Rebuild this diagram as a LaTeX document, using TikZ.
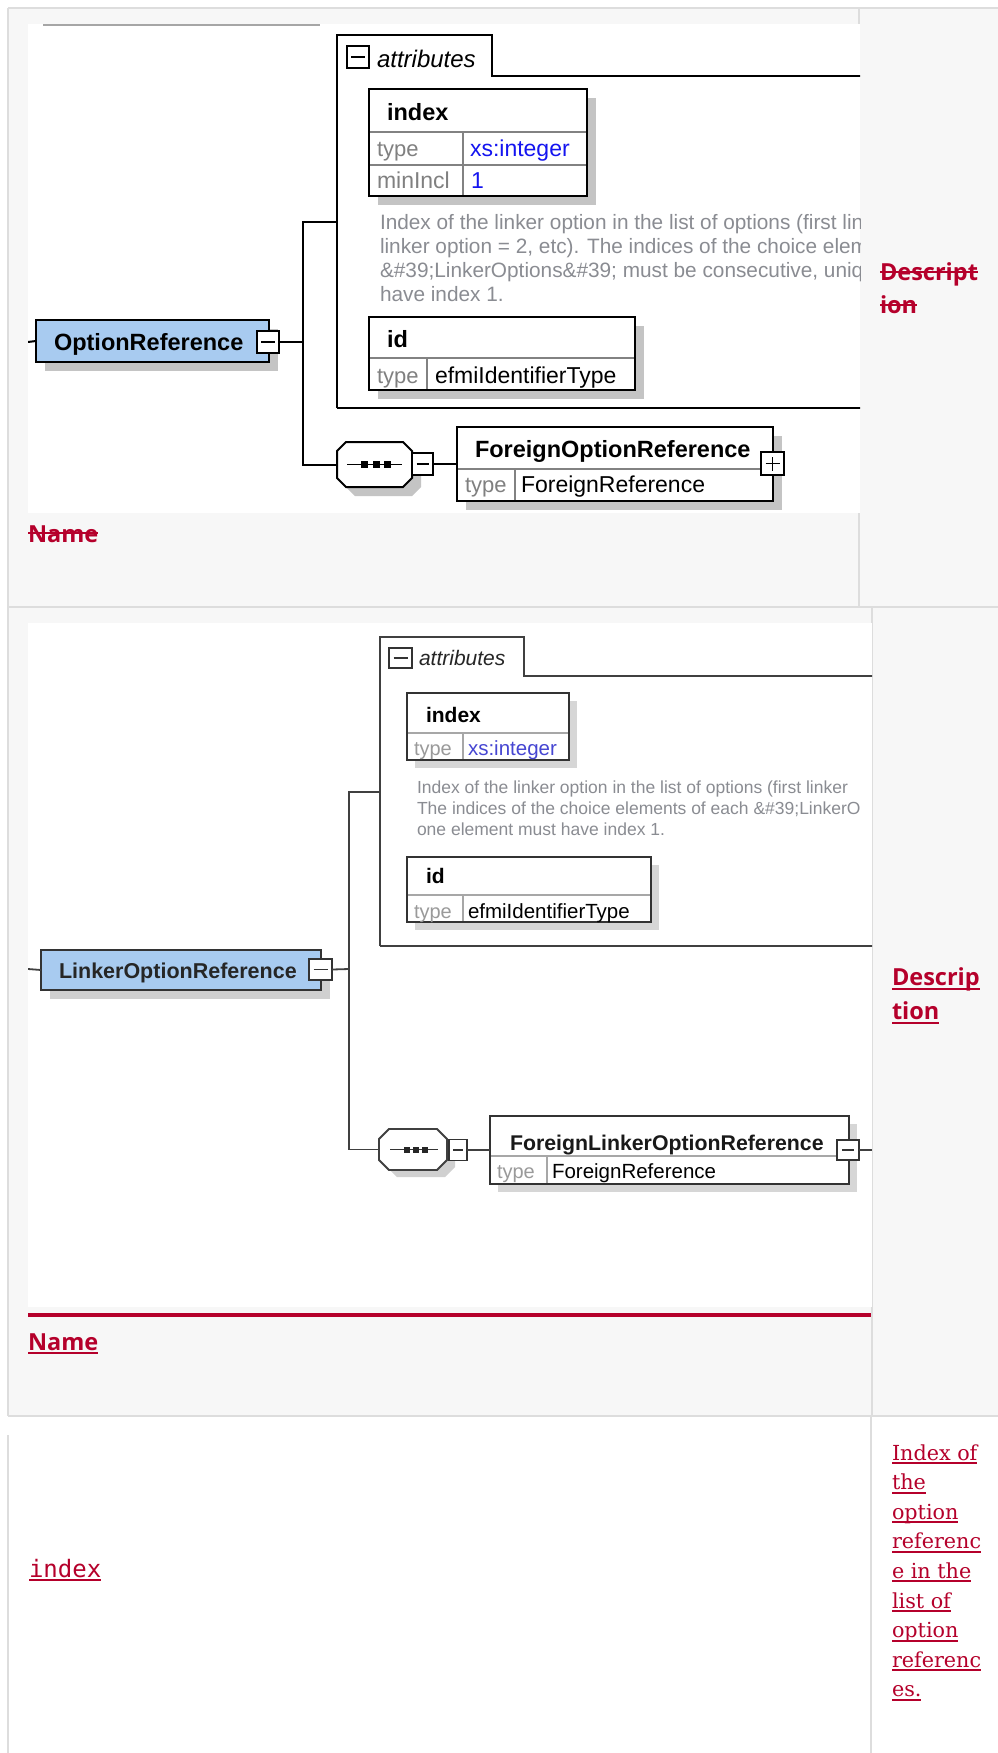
\documentclass[tikz,border=0pt]{standalone}
\usepackage{fontspec}
\setmainfont{Liberation Sans}
\newfontfamily\hfont{Open Sans}
\newfontfamily\serfont{DejaVu Serif}
\newfontfamily\monfont{DejaVu Sans Mono}
\usetikzlibrary{calc}
\definecolor{cellbg}{RGB}{247,247,247}
\definecolor{cellline}{RGB}{221,221,221}
\definecolor{crim}{RGB}{181,0,43}
\definecolor{boxblue}{RGB}{168,203,240}
\definecolor{shgray}{RGB}{196,196,196}
\definecolor{descgray}{RGB}{138,140,146}
\definecolor{typegray}{RGB}{128,128,128}
\definecolor{xsblue}{RGB}{20,20,240}
\definecolor{xsblueb}{RGB}{70,70,210}
\definecolor{innerline}{RGB}{130,130,130}
\newcommand\fsz[1]{\fontsize{#1}{#1}\selectfont}
\tikzset{
  every node/.style={inner sep=0pt, outer sep=0pt},
  bx/.style={draw=black, line width=2pt, fill=white, anchor=north west},
  bxb/.style={draw=black!80, line width=1.8pt, fill=white, anchor=north west},
  pmbox/.style={draw=black, line width=1.5pt, fill=white, anchor=north west},
  cline/.style={draw=black, line width=2pt},
  clineb/.style={draw=black!75, line width=1.8pt},
  inl/.style={draw=innerline, line width=1.3pt},
  ttl/.style={anchor=base west, font=\bfseries\fsz{23.5}},
  ttlb/.style={anchor=base west, font=\bfseries\fsz{21.5}},
  tgr/.style={anchor=base west, text=typegray, font=\fsz{22}},
  tgrb/.style={anchor=base west, text=typegray!80, font=\fsz{20}},
  tval/.style={anchor=base west, font=\fsz{23}},
  tvalb/.style={anchor=base west, font=\fsz{20.5}},
  dsc/.style={anchor=base west, text=descgray, font=\fsz{20.8}},
  dscb/.style={anchor=base west, text=descgray, font=\fsz{17.5}},
  hdr/.style={anchor=base west, text=crim, font=\hfont\bfseries\fsz{23.5}},
  rlink/.style={anchor=base west, text=crim, font=\serfont\fsz{20.7}},
  redln/.style={draw=crim, line width=2pt},
}
\begin{document}
\begin{tikzpicture}[x=1pt,y=-1pt]
\useasboundingbox (0,0) rectangle (998,1753);
\fill[white] (0,0) rectangle (998,1753);
% ---------- table cells ----------
\fill[cellbg] (8,8) rectangle (998,1416);
\draw[cellline, line width=1.5pt] (8,8) -- (998,8);
\draw[cellline, line width=1.5pt] (8,8) -- (8,1416);
\draw[cellline, line width=1.5pt] (8,607) -- (998,607);
\draw[cellline, line width=1.5pt] (8,1416) -- (998,1416);
\draw[cellline, line width=1.5pt] (859,8) -- (859,607);
\draw[cellline, line width=1.5pt] (872,607) -- (872,1416);
\draw[cellline, line width=1.5pt] (871,1416) -- (871,1753);
\draw[cellline, line width=1.2pt] (8,1435) -- (8,1753);
% image areas
\fill[white] (28,24) rectangle (860,513);
\fill[white] (28,623) rectangle (872,1307);
\fill[crim] (28,1313) rectangle (871,1317);

% =============== ROW 1 DIAGRAM ===============
\begin{scope}
\clip (28,24) rectangle (860,513);
\draw[draw=black!35, line width=2pt] (43,25) -- (320,25);
% attributes frame
\draw[cline] (337,408) -- (337,35) -- (492,35) -- (492,76) -- (880,76);
\draw[cline] (337,408) -- (880,408);
\coordinate (attr1w) at (337,222);
\node[pmbox, minimum width=22, minimum height=22] (attr1m) at (347,46) {};
\draw[line width=1.5pt] ([xshift=-7pt]attr1m.center) -- ([xshift=7pt]attr1m.center);
\node[anchor=base west, font=\itshape\fsz{24}] (attr1t) at (377,67) {attributes};
% OptionReference
\fill[shgray] (45,329) rectangle (278,371);
\node[bx, fill=boxblue, minimum width=233, minimum height=42] (or) at (36,320) {};
\node[ttl] (ortxt) at (54,350) {OptionReference};
\node[pmbox, minimum width=22, minimum height=22] (orm) at (257,331) {};
\draw[line width=1.5pt] ([xshift=-7pt]orm.center) -- ([xshift=7pt]orm.center);
\coordinate (l1) at (28,342);
\draw[cline] (l1) -- (or.west);
% index box
\fill[shgray] (378,98) rectangle (596,205);
\node[bx, minimum width=218, minimum height=107] (idx1) at (369,89) {};
\draw[inl] (369,132) -- (587,132);
\draw[inl] (369,165) -- (587,165);
\draw[inl] (463,132) -- (463,196);
\draw[line width=2pt] (369,89) rectangle (587,196);
\node[ttl] (idx1t) at (387,120) {index};
\node[tgr] (idx1ty) at (377,156) {type};
\node[tval, text=xsblue] (idx1tv) at (470,156) {xs:integer};
\node[tgr, font=\fsz{23}] (idx1mi) at (377,188) {minIncl};
\node[tval, text=xsblue] (idx1mv) at (471,188) {1};
% description (clipped at the image edge)
\node[dsc] (d1a) at (380,229) {Index of the linker option in the list of options (first lin};
\node[dsc] (d1b) at (380,253) {linker option = 2, etc). The indices of the choice eleme};
\node[dsc] (d1c) at (380,277) {\&\#39;LinkerOptions\&\#39; must be consecutive, uniq};
\node[dsc] (d1d) at (380,301) {have index 1.};
% id box
\fill[shgray] (378,326) rectangle (644,399);
\node[bx, minimum width=266, minimum height=73] (id1) at (369,317) {};
\draw[inl] (369,358) -- (635,358);
\draw[inl] (427,358) -- (427,390);
\draw[line width=2pt] (369,317) rectangle (635,390);
\node[ttl] (id1t) at (387,347) {id};
\node[tgr] (id1ty) at (377,383) {type};
\node[tval] (id1tv) at (435,383) {efmiIdentifierType};
% sequence
\node[minimum width=75, minimum height=45] (seq1) at (374.5,464.5) {};
\fill[shgray] (355,451) -- (412,451) -- (421,460) -- (421,487) -- (412,496) -- (355,496) -- (346,487) -- (346,460) -- cycle;
\draw[cline, fill=white] (346,442) -- (403,442) -- (412,451) -- (412,478) -- (403,487) -- (346,487) -- (337,478) -- (337,451) -- cycle;
\draw[line width=1.6pt] (347,464.5) -- (402,464.5);
\fill (360.5,461) rectangle (367.5,468);
\fill (372.5,461) rectangle (379.5,468);
\fill (383.5,461) rectangle (390.5,468);
\node[pmbox, minimum width=21, minimum height=22] (seq1m) at (412,453) {};
\draw[line width=1.5pt] ([xshift=-6pt]seq1m.center) -- ([xshift=6pt]seq1m.center);
% ForeignOptionReference
\fill[shgray] (466,436) rectangle (782,510);
\node[bx, minimum width=316, minimum height=74] (for1) at (457,427) {};
\draw[inl] (457,469) -- (773,469);
\draw[inl] (515,469) -- (515,501);
\draw[line width=2pt] (457,427) rectangle (773,501);
\node[ttl] (for1t) at (475,457) {ForeignOptionReference};
\node[tgr] (for1ty) at (465,492) {type};
\node[tval] (for1tv) at (521,492) {ForeignReference};
\node[pmbox, minimum width=23, minimum height=23] (for1p) at (761,452) {};
\draw[line width=1.5pt] ([xshift=-7pt]for1p.center) -- ([xshift=7pt]for1p.center);
\draw[line width=1.5pt] ([yshift=-7pt]for1p.center) -- ([yshift=7pt]for1p.center);
% connectors
\coordinate (j1) at (303,342);
\draw[cline] (orm.east) -- (j1);
\draw[cline] (j1) |- (attr1w);
\draw[cline] (j1) |- (seq1.west);
\draw[cline] (seq1m.east) -- (for1.west);
\end{scope}

% =============== ROW 2 DIAGRAM ===============
\begin{scope}
\clip (28,623) rectangle (872,1307);
% attributes frame
\draw[clineb] (380,946) -- (380,637) -- (524,637) -- (524,676) -- (890,676);
\draw[clineb] (380,946) -- (890,946);
\coordinate (attr2w) at (380,792);
\node[pmbox, draw=black!80, minimum width=23, minimum height=20] (attr2m) at (389,648) {};
\draw[line width=1.5pt, black!80] ([xshift=-7pt]attr2m.center) -- ([xshift=7pt]attr2m.center);
\node[anchor=base west, font=\itshape\fsz{21}, text=black!85] (attr2t) at (419,665) {attributes};
% LinkerOptionReference
\fill[shgray!80] (50,959) rectangle (330,999);
\node[bxb, fill=boxblue, minimum width=280, minimum height=40] (lor) at (41,950) {};
\node[ttlb, text=black!85] (lortxt) at (59,978) {LinkerOptionReference};
\node[pmbox, draw=black!80, minimum width=23, minimum height=21] (lorm) at (309,959) {};
\draw[line width=1.5pt, black!80] ([xshift=-7pt]lorm.center) -- ([xshift=7pt]lorm.center);
\coordinate (l2) at (28,969);
\draw[clineb] (l2) -- (lor.west);
% index box
\fill[shgray!70] (415,701) rectangle (577,768);
\node[bxb, minimum width=162, minimum height=67] (idx2) at (407,693) {};
\draw[inl, draw=innerline!70] (407,733) -- (569,733);
\draw[inl, draw=innerline!70] (463,733) -- (463,760);
\draw[line width=1.8pt, black!80] (407,693) rectangle (569,760);
\node[ttlb, font=\bfseries\fsz{21}] (idx2t) at (426,722) {index};
\node[tgrb] (idx2ty) at (414,755) {type};
\node[tvalb, text=xsblueb] (idx2tv) at (468,755) {xs:integer};
% description (clipped at the image edge)
\node[dscb] (d2a) at (417,793) {Index of the linker option in the list of options (first linker};
\node[dscb] (d2b) at (417,814) {The indices of the choice elements of each \&\#39;LinkerO};
\node[dscb] (d2c) at (417,835) {one element must have index 1.};
% id box
\fill[shgray!70] (415,865) rectangle (659,930);
\node[bxb, minimum width=244, minimum height=65] (id2) at (407,857) {};
\draw[inl, draw=innerline!70] (407,895) -- (651,895);
\draw[inl, draw=innerline!70] (463,895) -- (463,922);
\draw[line width=1.8pt, black!80] (407,857) rectangle (651,922);
\node[ttlb, font=\bfseries\fsz{21}] (id2t) at (426,883) {id};
\node[tgrb] (id2ty) at (414,918) {type};
\node[tvalb] (id2tv) at (468,918) {efmiIdentifierType};
% sequence
\node[minimum width=68, minimum height=40] (seq2) at (413,1149.5) {};
\fill[shgray!80] (397,1137) -- (445,1137) -- (455,1147) -- (455,1167) -- (445,1177) -- (397,1177) -- (387,1167) -- (387,1147) -- cycle;
\draw[clineb, fill=white] (389,1129) -- (437,1129) -- (447,1139) -- (447,1160) -- (437,1170) -- (389,1170) -- (379,1160) -- (379,1139) -- cycle;
\draw[line width=1.5pt, black!80] (390,1149.5) -- (438,1149.5);
\fill[black!85] (404,1146.5) rectangle (410,1152.5);
\fill[black!85] (413,1146.5) rectangle (419,1152.5);
\fill[black!85] (422,1146.5) rectangle (428,1152.5);
\node[pmbox, draw=black!80, minimum width=18, minimum height=21] (seq2m) at (449,1139.5) {};
\draw[line width=1.4pt, black!80] ([xshift=-5pt]seq2m.center) -- ([xshift=5pt]seq2m.center);
% ForeignLinkerOptionReference
\fill[shgray!70] (498,1124) rectangle (857,1192);
\node[bxb, minimum width=359, minimum height=68] (flor) at (490,1116) {};
\draw[inl, draw=innerline!70] (490,1156) -- (849,1156);
\draw[inl, draw=innerline!70] (547,1156) -- (547,1184);
\draw[line width=1.8pt, black!80] (490,1116) rectangle (849,1184);
\node[ttlb, font=\bfseries\fsz{21.3}, text=black!90] (flort) at (510,1150) {ForeignLinkerOptionReference};
\node[tgrb] (florty) at (497,1178) {type};
\node[tvalb] (flortv) at (552,1178) {ForeignReference};
\node[pmbox, draw=black!80, minimum width=22, minimum height=20] (florm) at (837,1140) {};
\draw[line width=1.4pt, black!80] ([xshift=-6pt]florm.center) -- ([xshift=6pt]florm.center);
\coordinate (r2) at (872,1150);
% connectors
\coordinate (j2) at (349,969);
\draw[clineb] (lorm.east) -- (j2);
\draw[clineb] (j2) |- (attr2w);
\draw[clineb] (j2) |- (seq2.west);
\draw[clineb] (seq2m.east) -- (flor.west);
\draw[clineb] (florm.east) -- (r2);
\end{scope}

% =============== HEADINGS ===============
\node[hdr] (name1) at (28,542) {Name};
\draw[redln] ([yshift=9pt]name1.base west) -- ([yshift=9pt]name1.base east);
\node[hdr] (desc1a) at (880,280) {Descript};
\draw[redln] ([yshift=8.5pt]desc1a.base west) -- ([yshift=8.5pt]desc1a.base east);
\node[hdr] (desc1b) at (880,313) {ion};
\draw[redln] ([yshift=8.5pt]desc1b.base west) -- ([yshift=8.5pt]desc1b.base east);

\node[hdr] (name2) at (28,1350) {Name};
\draw[redln] ([yshift=-3pt]name2.base west) -- ([yshift=-3pt]name2.base east);
\node[hdr] (desc2a) at (892,985) {Descrip};
\draw[redln] ([yshift=-4pt]desc2a.base west) -- ([yshift=-4pt]desc2a.base east);
\node[hdr] (desc2b) at (892,1019) {tion};
\draw[redln] ([yshift=-4pt]desc2b.base west) -- ([yshift=-4pt]desc2b.base east);

% =============== ROW 3 ===============
\node[anchor=base west, text=crim, font=\monfont\fsz{24}] (idxname) at (29,1577) {index};
\draw[redln] ([yshift=-3pt]idxname.base west) -- ([yshift=-3pt]idxname.base east);
\foreach \t [count=\i from 0] in {Index of,the,option,referenc,e in the,list of,option,referenc,es.}{
  \node[rlink] (r3l\i) at (892,{1460+29.6*\i}) {\t};
  \draw[redln] ([yshift=-3pt]r3l\i.base west) -- ([yshift=-3pt]r3l\i.base east);
}
\end{tikzpicture}
\end{document}
